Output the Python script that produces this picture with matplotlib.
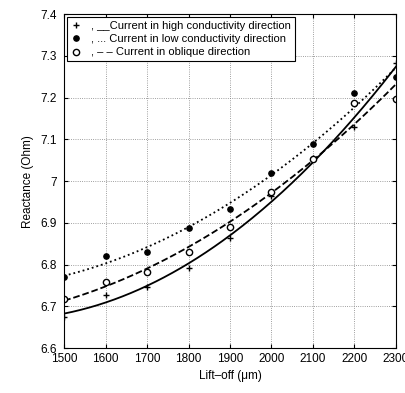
import numpy as np
import matplotlib
matplotlib.use("Agg")
import matplotlib.pyplot as plt

plt.rcParams["font.family"] = ["Liberation Sans", "DejaVu Sans"]

# Lift-off values (um)
liftoff = [1500, 1600, 1700, 1800, 1900, 2000, 2100, 2200, 2300]

# Measured reactance (Ohm)
high_cond = [6.674, 6.727, 6.746, 6.792, 6.863, 6.965, 7.055, 7.130, 7.283]
low_cond = [6.770, 6.820, 6.830, 6.887, 6.933, 7.020, 7.089, 7.211, 7.249]
oblique = [6.717, 6.758, 6.782, 6.830, 6.890, 6.973, 7.053, 7.187, 7.196]

labels = [
    ", __Current in high conductivity direction",
    ", ... Current in low conductivity direction",
    ", \u2013 \u2013 Current in oblique direction",
]

fig = plt.figure(figsize=(4.06, 3.93), dpi=100)
ax = fig.add_axes([0.158, 0.1145, 0.817, 0.8495])

x = np.array(liftoff, dtype=float)
xs = np.linspace(1500, 2300, 200)

# quadratic fits through the measured points
for vals, ls in [(high_cond, "-"), (low_cond, ":"), (oblique, "--")]:
    p = np.polyfit(x, vals, 2)
    ax.plot(xs, np.polyval(p, xs), color="black", linestyle=ls, linewidth=1.3)

h1, = ax.plot(x, high_cond, "k+", markersize=5, markeredgewidth=1.0, linestyle="none")
h2, = ax.plot(x, low_cond, "ko", markersize=3.8, linestyle="none")
h3, = ax.plot(x, oblique, "o", markersize=4.5, markerfacecolor="white",
              markeredgecolor="black", markeredgewidth=1.0, linestyle="none")

ax.set_xlim(1500, 2300)
ax.set_ylim(6.6, 7.4)
ax.set_xticks(liftoff)
ax.set_xticklabels([str(v) for v in liftoff])
ax.set_yticks([6.6, 6.7, 6.8, 6.9, 7.0, 7.1, 7.2, 7.3, 7.4])
ax.set_yticklabels(["6.6", "6.7", "6.8", "6.9", "7", "7.1", "7.2", "7.3", "7.4"])
ax.tick_params(direction="in", top=True, right=True, labelsize=8.5, length=3)
ax.tick_params(axis="y", pad=5.5)
ax.grid(True, linestyle=":", color="gray", linewidth=0.6)

ax.set_xlabel("Lift\u2013off (\u03bcm)", fontsize=8.5)
ax.set_ylabel("Reactance (Ohm)", fontsize=8.5)

leg = ax.legend([h1, h2, h3], labels, loc="upper left", fontsize=8,
                frameon=True, fancybox=False, edgecolor="black", framealpha=1,
                handlelength=1.0, handletextpad=0.8, borderpad=0.35,
                labelspacing=0.3, borderaxespad=0.25)
leg.get_frame().set_linewidth(0.8)

fig.savefig("out.png", dpi=100)
